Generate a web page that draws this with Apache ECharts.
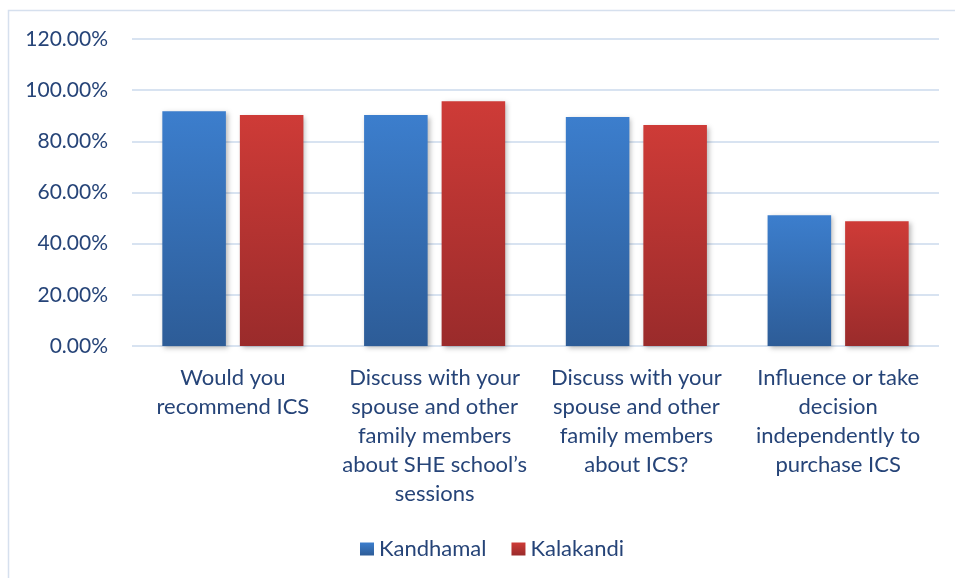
<!DOCTYPE html>
<html>
<head>
<meta charset="utf-8">
<script src="https://cdn.jsdelivr.net/npm/echarts@6/dist/echarts.min.js"></script>
<style>
  html, body { margin: 0; padding: 0; background: #ffffff; }
  #chart { width: 955px; height: 578px; }
</style>
</head>
<body>
<div id="chart"></div>
<script>
// Survey questions (wrapped for the category axis)
const categories = [
  'Would you\nrecommend ICS',
  'Discuss with your\nspouse and other\nfamily members\nabout SHE school\u2019s\nsessions',
  'Discuss with your\nspouse and other\nfamily members\nabout ICS?',
  'Influence or take\ndecision\nindependently to\npurchase ICS'
];
// Share of respondents answering yes, in percent
const kandhamal = [91.8, 90.3, 89.5, 51.1];
const kalakandi = [90.3, 95.7, 86.4, 48.8];
const seriesNames = ['Kandhamal', 'Kalakandi'];
// Value axis ticks
const yMin = 0, yMax = 120, yStep = 20;

const textColor = '#264478';
const fontFamily = 'Lato, "Noto Sans", sans-serif';

function grad(top, bottom) {
  return new echarts.graphic.LinearGradient(0, 0, 0, 1, [
    { offset: 0, color: top },
    { offset: 1, color: bottom }
  ]);
}

const chart = echarts.init(document.getElementById('chart'), null, { renderer: 'canvas' });
chart.setOption({
  animation: false,
  backgroundColor: '#ffffff',
  textStyle: { fontFamily: fontFamily, color: textColor },
  graphic: [{
    type: 'rect',
    shape: { x: 8.5, y: 10.5, width: 1000, height: 1000 },
    style: { fill: 'none', stroke: '#d6e0ee', lineWidth: 1.5 },
    silent: true,
    z: -1
  }],
  grid: { left: 132, right: 16, top: 39, bottom: 232 },
  legend: {
    top: 533,
    left: 355,
    itemWidth: 14,
    itemHeight: 13,
    itemGap: 25,
    icon: 'rect',
    textStyle: { fontSize: 22, color: textColor, fontFamily: fontFamily },
    data: seriesNames
  },
  xAxis: {
    type: 'category',
    data: categories,
    axisLine: { show: false },
    axisTick: { show: false },
    axisLabel: {
      interval: 0,
      margin: 17,
      fontSize: 22,
      lineHeight: 29,
      color: textColor,
      fontFamily: fontFamily,
      verticalAlign: 'top'
    }
  },
  yAxis: {
    type: 'value',
    min: yMin,
    max: yMax,
    interval: yStep,
    axisLine: { show: false },
    axisTick: { show: false },
    splitLine: { lineStyle: { color: '#d8e3f1', width: 2 } },
    axisLabel: {
      margin: 24,
      fontSize: 21,
      color: textColor,
      fontFamily: fontFamily,
      formatter: v => v.toFixed(2) + '%'
    }
  },
  series: [
    {
      name: seriesNames[0],
      type: 'bar',
      data: kandhamal,
      barWidth: '31.5%',
      barGap: '22%',
      itemStyle: {
        color: grad('#3c7ecd', '#2d5c97'),
        shadowBlur: 5,
        shadowColor: 'rgba(0,0,0,0.28)',
        shadowOffsetX: 2,
        shadowOffsetY: 2
      }
    },
    {
      name: seriesNames[1],
      type: 'bar',
      data: kalakandi,
      barWidth: '31.5%',
      barGap: '22%',
      itemStyle: {
        color: grad('#ce3b37', '#9a2b2b'),
        shadowBlur: 5,
        shadowColor: 'rgba(0,0,0,0.28)',
        shadowOffsetX: 2,
        shadowOffsetY: 2
      }
    }
  ]
});
</script>
</body>
</html>
